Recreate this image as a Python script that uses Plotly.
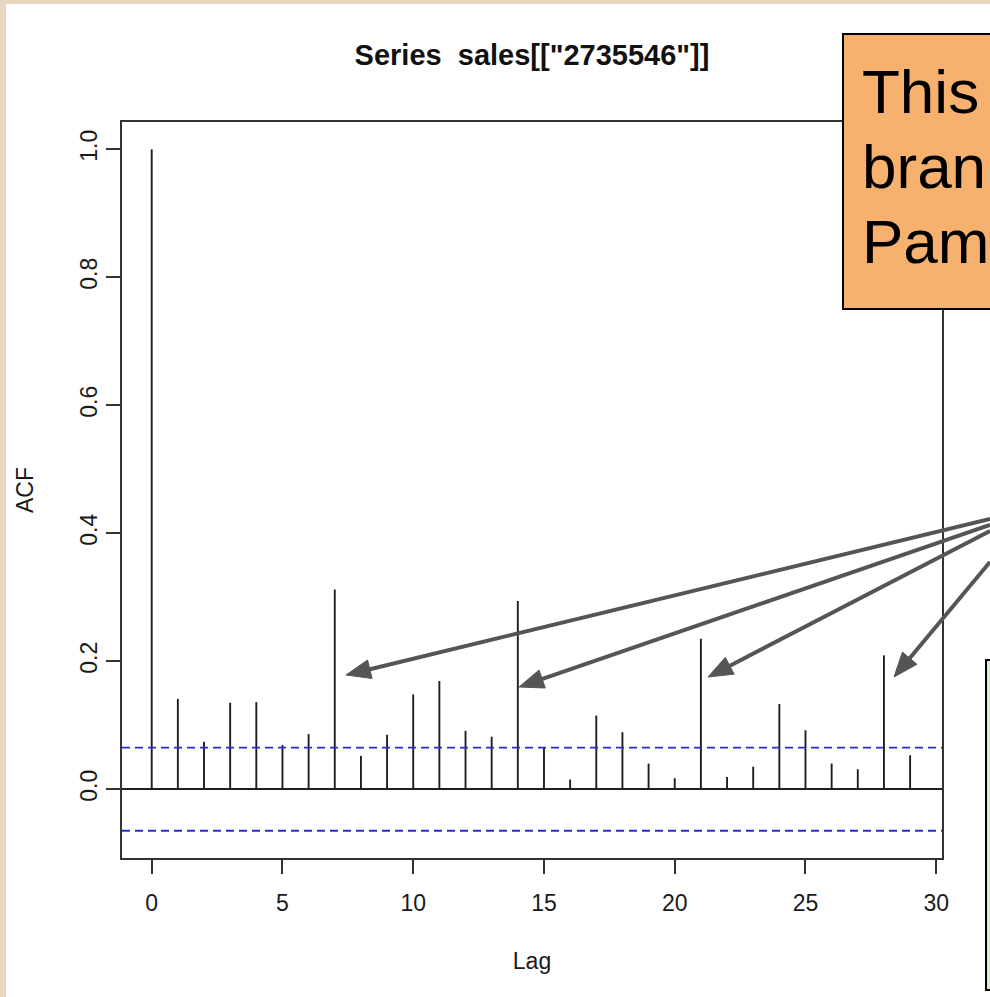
import plotly.graph_objects as go

# ---- data -------------------------------------------------------------
lags = list(range(30))
acf = [1.0, 0.141, 0.074, 0.135, 0.136, 0.069, 0.086, 0.312, 0.052, 0.085,
       0.148, 0.169, 0.091, 0.082, 0.294, 0.066, 0.015, 0.115, 0.089, 0.040,
       0.017, 0.235, 0.019, 0.035, 0.133, 0.092, 0.040, 0.031, 0.209, 0.053]
conf_level = 0.065
x_ticks = [0, 5, 10, 15, 20, 25, 30]
y_ticks = [0.0, 0.2, 0.4, 0.6, 0.8, 1.0]
y_tick_text = ["0.0", "0.2", "0.4", "0.6", "0.8", "1.0"]
callout_lines = ["This", "bran", "Pam"]

# ---- layout geometry (pixels) ------------------------------------------
W, H = 990, 997
L, R, T, B = 122, 942, 122, 858
X_RANGE = [-1.136, 30.22]
Y_RANGE = [-0.1076, 1.0426]
FONT = "Liberation Sans, Arial, Helvetica, sans-serif"
AXIS_COL = "#333333"
INK = "#1a1a1a"


def px(x):
    return (x - L) / (R - L)


def py(y):
    return (B - y) / (B - T)


# stems of the correlogram
stem_x, stem_y = [], []
for lag, v in zip(lags, acf):
    stem_x += [lag, lag, None]
    stem_y += [0, v, None]

fig = go.Figure()
fig.add_trace(go.Scatter(x=stem_x, y=stem_y, mode="lines",
                         line=dict(color="#1e1e1e", width=1.9),
                         hoverinfo="skip", showlegend=False))
for c in (conf_level, -conf_level):
    fig.add_trace(go.Scatter(x=X_RANGE, y=[c, c], mode="lines",
                             line=dict(color="#2b2bd6", width=1.8, dash="8px,5px"),
                             hoverinfo="skip", showlegend=False))

shapes = []
# frame strips
shapes.append(dict(type="rect", xref="paper", yref="paper", x0=px(0), x1=px(6),
                   y0=py(0), y1=py(H), fillcolor="#e7d7be", line=dict(width=0), layer="above"))
shapes.append(dict(type="rect", xref="paper", yref="paper", x0=px(0), x1=px(W),
                   y0=py(0), y1=py(4), fillcolor="#e7d7be", line=dict(width=0), layer="above"))

# callout arrows (tail -> tip), in pixels
arrows = [((990, 519), (346, 675)),
          ((990, 525), (519, 687)),
          ((990, 531), (708, 677)),
          ((990, 562), (894, 677))]
HEAD_LEN, HEAD_HALF = 24.5, 9.5
ARROW_COL = "#555555"
for (x0, y0), (x1, y1) in arrows:
    dx, dy = x1 - x0, y1 - y0
    d = (dx * dx + dy * dy) ** 0.5
    ux, uy = dx / d, dy / d
    nx, ny = -uy, ux
    bx, by = x1 - ux * HEAD_LEN, y1 - uy * HEAD_LEN
    shapes.append(dict(type="line", xref="paper", yref="paper",
                       x0=px(x0), y0=py(y0), x1=px(bx + ux * 2), y1=py(by + uy * 2),
                       line=dict(color=ARROW_COL, width=4), layer="above"))
    path = "M {:.5f},{:.5f} L {:.5f},{:.5f} L {:.5f},{:.5f} Z".format(
        px(x1), py(y1),
        px(bx + nx * HEAD_HALF), py(by + ny * HEAD_HALF),
        px(bx - nx * HEAD_HALF), py(by - ny * HEAD_HALF))
    shapes.append(dict(type="path", xref="paper", yref="paper", path=path,
                       fillcolor=ARROW_COL, line=dict(color=ARROW_COL, width=1), layer="above"))

# callout boxes
shapes.append(dict(type="rect", xref="paper", yref="paper", x0=px(843), x1=px(1010),
                   y0=py(309), y1=py(34), fillcolor="#f5b16d",
                   line=dict(color="#000000", width=2), layer="above"))
shapes.append(dict(type="rect", xref="paper", yref="paper", x0=px(986), x1=px(1010),
                   y0=py(990), y1=py(660), fillcolor="#dcebd5",
                   line=dict(color="#000000", width=2), layer="above"))

annotations = []
for text, yc in zip(callout_lines, [91.5, 166.5, 241.5]):
    annotations.append(dict(text=text, xref="paper", yref="paper", x=px(860), y=py(yc),
                            xanchor="left", yanchor="middle", showarrow=False,
                            font=dict(family=FONT, size=62, color="#000000")))

fig.update_layout(
    width=W, height=H,
    margin=dict(l=L, r=W - R, t=T, b=H - B),
    paper_bgcolor="white", plot_bgcolor="white",
    font=dict(family=FONT, color=INK),
    title=dict(text='Series  sales[["2735546"]]', x=(L + R) / 2 / W, xanchor="center",
               y=1 - 55 / H, yanchor="middle", yref="container",
               font=dict(family=FONT, size=29, weight="bold", color="#111111")),
    shapes=shapes,
    annotations=annotations,
    showlegend=False,
)
fig.update_xaxes(range=X_RANGE, tickvals=x_ticks, ticks="outside", ticklen=14,
                 tickwidth=1.8, tickcolor=AXIS_COL, showline=True, mirror=True,
                 linecolor=AXIS_COL, linewidth=1.8, showgrid=False, zeroline=False,
                 ticklabelstandoff=9,
                 tickfont=dict(size=23, color=INK),
                 title=dict(text="Lag", standoff=38, font=dict(size=23, color=INK)))
fig.update_yaxes(range=Y_RANGE, tickvals=y_ticks, ticktext=y_tick_text, tickangle=-90,
                 ticks="outside", ticklen=14, tickwidth=1.8, tickcolor=AXIS_COL,
                 showline=True, mirror=True, linecolor=AXIS_COL, linewidth=1.8,
                 showgrid=False, zeroline=True, zerolinecolor="#1e1e1e", zerolinewidth=1.8,
                 tickfont=dict(size=23, color=INK),
                 title=dict(text="ACF", standoff=36, font=dict(size=23, color=INK)))

fig.write_html("out.html")
